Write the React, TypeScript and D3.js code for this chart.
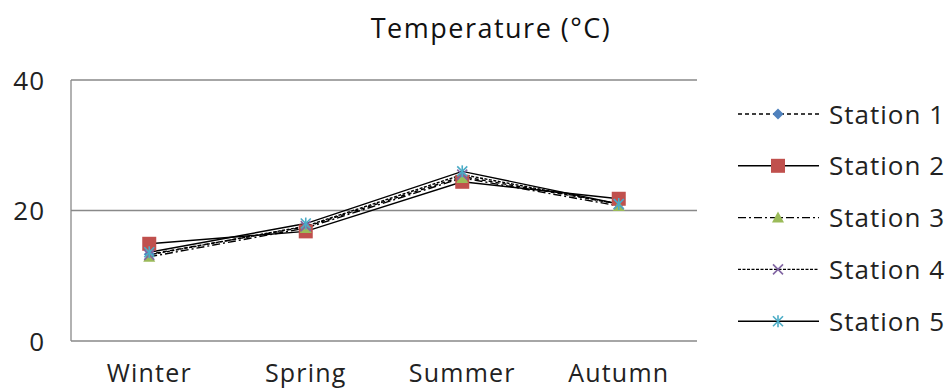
import React from "react";
import * as d3 from "d3";

const seasons = ["Winter", "Spring", "Summer", "Autumn"];
const stationNames = ["Station 1", "Station 2", "Station 3", "Station 4", "Station 5"];
const station1 = [13.3, 17.5, 25.2, 21.0];
const station2 = [14.9, 16.8, 24.4, 21.8];
const station3 = [12.9, 17.3, 25.0, 20.7];
const station4 = [13.2, 17.6, 25.5, 21.0];
const station5 = [13.6, 18.0, 26.0, 21.0];
const yTicks = [0, 20, 40];

const seriesValues = [station1, station2, station3, station4, station5];
const colors = ["#4F81BD", "#C0504D", "#9BBB59", "#8064A2", "#4BACC6"];
const dashes = ["4,3", null, "8,3,2,3", "3,1.5", null];

const W = 947, H = 391;
const left = 71, right = 697, top = 80, bottom = 341;
const FONT = "'Open Sans', 'DejaVu Sans', sans-serif";

function Marker({ i, x, y }: { i: number; x: number; y: number }) {
  const c = colors[i];
  if (i === 0) {
    return <path d={`M${x},${y - 5.5}L${x + 5.5},${y}L${x},${y + 5.5}L${x - 5.5},${y}Z`} fill={c} />;
  }
  if (i === 1) {
    return <rect x={x - 7} y={y - 7} width={14} height={14} fill={c} />;
  }
  if (i === 2) {
    return <path d={`M${x},${y - 6}L${x + 6},${y + 5}L${x - 6},${y + 5}Z`} fill={c} />;
  }
  if (i === 3) {
    return (
      <g stroke={c} strokeWidth={1.6}>
        <line x1={x - 5} y1={y - 5} x2={x + 5} y2={y + 5} />
        <line x1={x - 5} y1={y + 5} x2={x + 5} y2={y - 5} />
      </g>
    );
  }
  return (
    <g stroke={c} strokeWidth={1.6}>
      <line x1={x - 5} y1={y - 5} x2={x + 5} y2={y + 5} />
      <line x1={x - 5} y1={y + 5} x2={x + 5} y2={y - 5} />
      <line x1={x} y1={y - 6} x2={x} y2={y + 6} />
    </g>
  );
}

export default function App() {
  const x = d3.scaleBand<string>().domain(seasons).range([left, right]);
  const y = d3.scaleLinear().domain([0, 40]).range([bottom, top]);
  const line = d3
    .line<number>()
    .x((_, j) => (x(seasons[j]) as number) + x.bandwidth() / 2)
    .y((v) => y(v));

  const legendX = 738, legendY0 = 114, legendStep = 51.8;

  return (
    <svg width={W} height={H} style={{ position: "absolute", left: 0, top: 0 }} fontFamily={FONT}>
      <rect width={W} height={H} fill="#fff" />
      <text x={491} y={38} textAnchor="middle" fontSize={27} letterSpacing={1.5} fill="#111">
        Temperature (°C)
      </text>
      {yTicks.map((t) => (
        <g key={t}>
          <line x1={left} x2={right} y1={y(t)} y2={y(t)} stroke="#898989" strokeWidth={1.3} />
          <text x={45} y={y(t) + 9.5} textAnchor="end" fontSize={26} letterSpacing={1} fill="#222">
            {t}
          </text>
        </g>
      ))}
      <line x1={left} x2={left} y1={top} y2={bottom} stroke="#898989" strokeWidth={1.3} />
      {seasons.map((s) => (
        <text
          key={s}
          x={(x(s) as number) + x.bandwidth() / 2}
          y={382}
          textAnchor="middle"
          fontSize={25}
          letterSpacing={1.2}
          fill="#222"
        >
          {s}
        </text>
      ))}
      {seriesValues.map((vals, i) => (
        <path
          key={"l" + i}
          d={line(vals) as string}
          fill="none"
          stroke="#000"
          strokeWidth={1.4}
          strokeDasharray={dashes[i] ?? undefined}
        />
      ))}
      {seriesValues.map((vals, i) => (
        <g key={"m" + i}>
          {vals.map((v, j) => (
            <Marker key={j} i={i} x={(x(seasons[j]) as number) + x.bandwidth() / 2} y={y(v)} />
          ))}
        </g>
      ))}
      {stationNames.map((n, i) => {
        const ly = legendY0 + i * legendStep;
        return (
          <g key={n}>
            <line
              x1={legendX}
              x2={legendX + 81}
              y1={ly}
              y2={ly}
              stroke="#000"
              strokeWidth={1.4}
              strokeDasharray={dashes[i] ?? undefined}
            />
            <Marker i={i} x={legendX + 40} y={ly} />
            <text x={829} y={ly + 9.5} fontSize={26} letterSpacing={1} fill="#222">
              {n}
            </text>
          </g>
        );
      })}
    </svg>
  );
}
